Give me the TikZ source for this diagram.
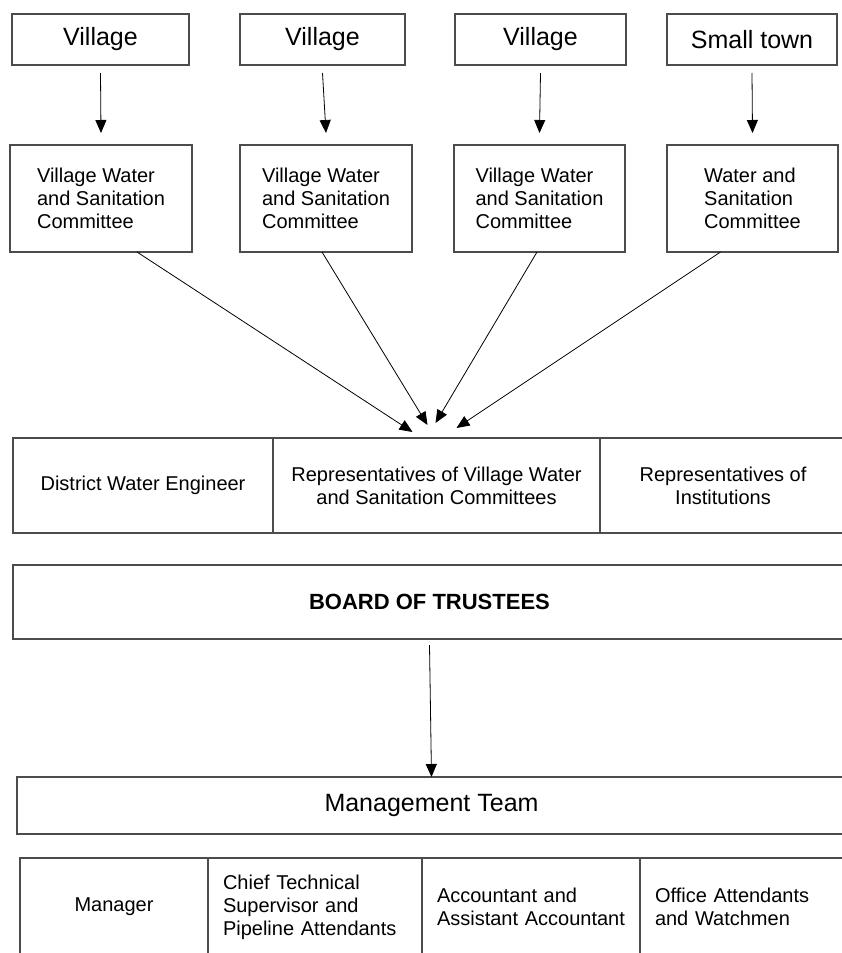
\documentclass[tikz,border=0pt]{standalone}
\usepackage{fontspec}
\setmainfont{Liberation Sans}
\usetikzlibrary{arrows.meta}

\begin{document}
\begin{tikzpicture}[x=1pt,y=-1pt,
        box/.style={rectangle,draw=black!70,line width=1.1pt,inner sep=0pt,
            outer sep=0pt,align=center,font=\fontsize{20}{23}\selectfont},
        big/.style={box,font=\fontsize{25}{29}\selectfont},
        cell/.style={box,minimum height=98,inner xsep=15pt,align=left},
        arr/.style={-{Triangle[length=13pt,width=11pt]},line width=0.8pt}]
\useasboundingbox (0,0) rectangle (842,953);

% settlements
\node[big,minimum width=177,minimum height=51] (v1) at (100.5,39.5) {Village};
\node[big,minimum width=165,minimum height=51] (v2) at (322.5,39.5) {Village};
\node[big,minimum width=171,minimum height=51] (v3) at (540.5,39.5) {Village};
\node[big,minimum width=170,minimum height=51] (v4) at (752,39.5) {Small town};

% committees
\node[box,align=left,minimum width=182,minimum height=107] (c1) at (101,198.5)
    {Village Water\\and Sanitation\\Committee};
\node[box,align=left,minimum width=172,minimum height=107] (c2) at (326,198.5)
    {Village Water\\and Sanitation\\Committee};
\node[box,align=left,minimum width=171,minimum height=107] (c3) at (539.5,198.5)
    {Village Water\\and Sanitation\\Committee};
\node[box,align=left,minimum width=171,minimum height=107] (c4) at (752.5,198.5)
    {Water and\\Sanitation\\Committee};

\draw[arr] ([yshift=-8pt]v1.south) -- ([yshift=12pt]c1.north);
\draw[arr] ([yshift=-8pt]v2.south) -- ([yshift=12pt]c2.north);
\draw[arr] ([yshift=-8pt]v3.south) -- ([yshift=12pt]c3.north);
\draw[arr] ([yshift=-8pt]v4.south) -- ([yshift=12pt]c4.north);

% board members
\node[box,minimum width=260,minimum height=95] (eng) at (143,485.5)
    {District Water Engineer};
\node[box,minimum width=327,minimum height=95] (reps) at (436.5,485.5)
    {Representatives of Village Water\\and Sanitation Committees};
\node[box,minimum width=246,minimum height=95] (inst) at (723,485.5)
    {Representatives of\\Institutions};

\draw[arr] ([xshift=36pt]c1.south) -- ([xshift=-24pt,yshift=6pt]reps.north);
\draw[arr] ([xshift=-4pt]c2.south) -- ([xshift=-9pt,yshift=13pt]reps.north);
\draw[arr] ([xshift=-2.5pt]c3.south) -- ([xshift=-1pt,yshift=15pt]reps.north);
\draw[arr] ([xshift=-32pt]c4.south) -- ([xshift=20pt,yshift=10pt]reps.north);

\node[box,minimum width=833,minimum height=74,
    font=\bfseries\fontsize{22}{26}\selectfont] (board) at (429.5,602) {BOARD OF TRUSTEES};

\node[big,minimum width=829,minimum height=57] (mgmt) at (431.5,805.5) {Management Team};
\draw[arr] ([yshift=-6pt]board.south) -- (mgmt.north);

% staff
\node[box,minimum width=188,minimum height=98] (man) at (114,907) {Manager};
\node[cell,text width=184] (tech) at (315,907)
    {Chief Technical\\Supervisor and\\Pipeline Attendants};
\node[cell,text width=188] (acc) at (531,907)
    {Accountant and\\Assistant Accountant};
\node[cell,text width=176] (off) at (743,907)
    {Office Attendants\\and Watchmen};

\end{tikzpicture}
\end{document}
